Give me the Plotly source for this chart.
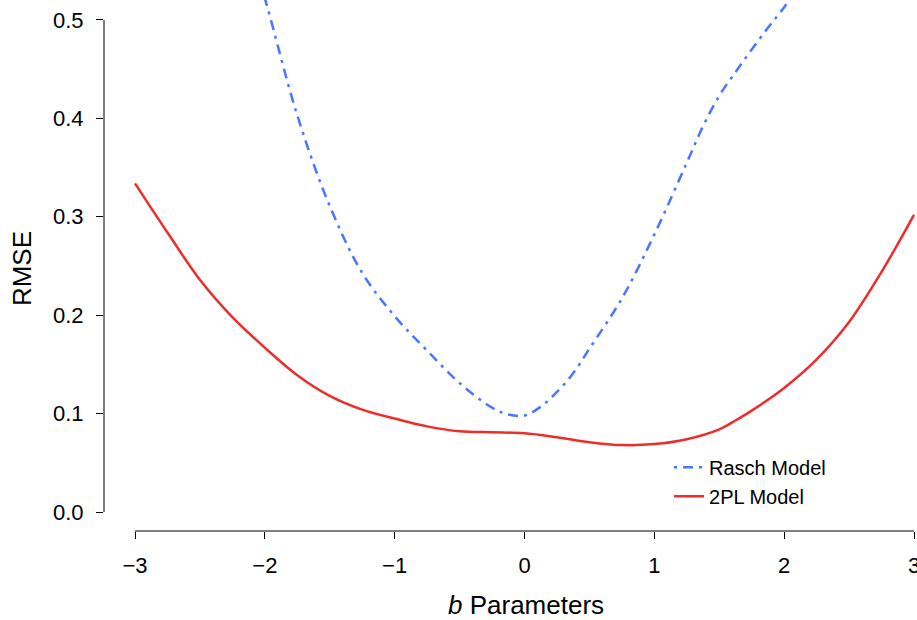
import plotly.graph_objects as go

# ---- data ----
b_rasch = [-2.25, -2.0, -1.75, -1.5, -1.25, -1.0, -0.75, -0.5, -0.25, -0.125, 0.0,
           0.125, 0.25, 0.375, 0.5, 0.75, 1.0, 1.25, 1.375, 1.5, 1.625, 1.75, 1.875,
           2.0, 2.25]
rmse_rasch = [0.63, 0.522, 0.403, 0.311, 0.243, 0.199, 0.164, 0.131, 0.106, 0.099, 0.098,
              0.107, 0.122, 0.141, 0.166, 0.217, 0.282, 0.355, 0.392, 0.423, 0.447, 0.470, 0.492,
              0.513, 0.56]

b_2pl = [-3.0, -2.75, -2.5, -2.25, -2.0, -1.75, -1.5, -1.25, -1.0, -0.75, -0.5,
         -0.25, 0.0, 0.25, 0.5, 0.75, 1.0, 1.25, 1.5, 1.625, 1.75, 2.0, 2.25, 2.5,
         2.75, 3.0]
rmse_2pl = [0.334, 0.284, 0.236, 0.198, 0.167, 0.139, 0.118, 0.104, 0.095, 0.087,
            0.082, 0.081, 0.080, 0.076, 0.071, 0.068, 0.069, 0.074, 0.084, 0.093, 0.103,
            0.126, 0.155, 0.193, 0.244, 0.302]

x_ticks = [-3, -2, -1, 0, 1, 2, 3]
y_ticks = [0.0, 0.1, 0.2, 0.3, 0.4, 0.5]

series_names = ["Rasch Model", "2PL Model"]
x_title = "<i>b</i> Parameters"
y_title = "RMSE"

BLUE = "#4876FF"
RED = "#EE2C2C"
FONT = "Liberation Sans, Arial, Helvetica, sans-serif"

fig = go.Figure()
fig.add_trace(go.Scatter(
    x=b_rasch, y=rmse_rasch, mode="lines", name=series_names[0],
    line=dict(color=BLUE, width=2.5, dash="3px,6px,10px,6px", shape="spline", smoothing=1.0),
))
fig.add_trace(go.Scatter(
    x=b_2pl, y=rmse_2pl, mode="lines", name=series_names[1],
    line=dict(color=RED, width=2.5, shape="spline", smoothing=1.0),
))

# R-style axis lines spanning only first to last tick
fig.add_shape(type="line", xref="paper", yref="y", x0=0, x1=0,
              y0=y_ticks[0], y1=y_ticks[-1], line=dict(color="black", width=1))
fig.add_shape(type="line", xref="x", yref="paper", x0=x_ticks[0], x1=x_ticks[-1],
              y0=0, y1=0, line=dict(color="black", width=1))

fig.add_annotation(text=x_title, xref="paper", yref="paper", x=0.519, y=-0.139,
                   xanchor="center", yanchor="middle", showarrow=False,
                   font=dict(family=FONT, size=26, color="black"))
fig.add_annotation(text=y_title, xref="paper", yref="paper", x=-0.1009, y=0.495,
                   xanchor="center", yanchor="middle", showarrow=False, textangle=-90,
                   font=dict(family=FONT, size=26, color="black"))

fig.update_layout(
    width=917, height=620,
    margin=dict(l=104, r=0, t=0, b=89, autoexpand=False),
    paper_bgcolor="white", plot_bgcolor="white",
    font=dict(family=FONT, size=22, color="black"),
    showlegend=True,
    legend=dict(x=0.695, y=0.157, xanchor="left", yanchor="top", tracegroupgap=0,
                bgcolor="rgba(0,0,0,0)", font=dict(size=20), itemwidth=30),
)
fig.update_xaxes(range=[-3.2388, 3.0231], tickvals=x_ticks, ticks="outside", ticklen=7,
                 tickcolor="black", showgrid=False, zeroline=False, showline=False,
                 ticklabelstandoff=8, ticklabeloverflow="allow", automargin=False)
fig.update_yaxes(range=[-0.0193, 0.5203], tickvals=y_ticks, tickformat=".1f",
                 ticks="outside", ticklen=7, tickcolor="black", showgrid=False,
                 zeroline=False, showline=False, ticklabelstandoff=8, automargin=False)

fig.write_html("out.html")
